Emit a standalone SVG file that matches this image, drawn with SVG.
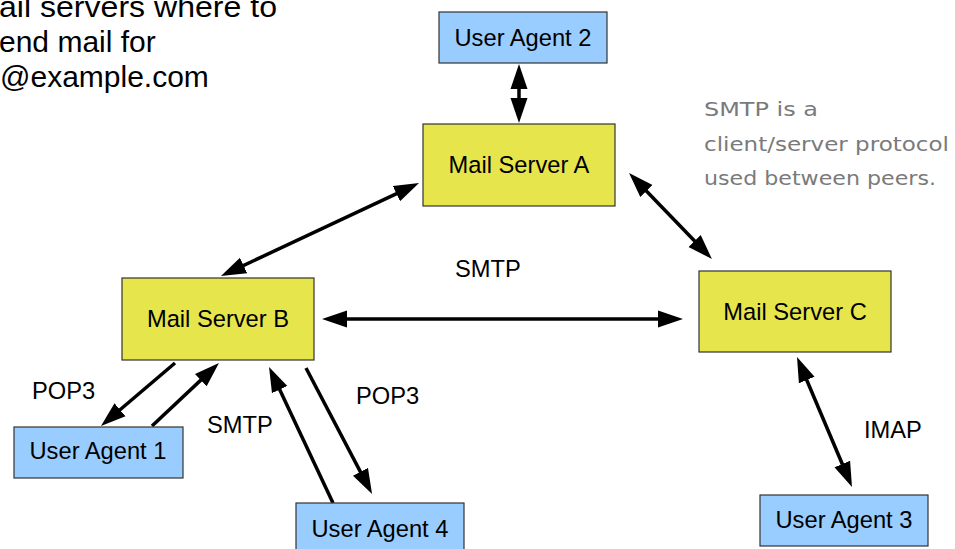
<svg xmlns="http://www.w3.org/2000/svg" width="955" height="549" viewBox="0 0 955 549">
<style>
.srv{fill:#e6e64c;stroke:#333;stroke-width:1.2}
.ua{fill:#99ccff;stroke:#333;stroke-width:1.2}
.t{font-family:"Liberation Sans",Arial,sans-serif;font-size:23.7px;fill:#000}
.c{text-anchor:middle}
.note{font-family:"DejaVu Sans","Liberation Sans",sans-serif;font-size:19px;fill:#7a7a7a}
.top{font-family:"Liberation Sans",Arial,sans-serif;font-size:30px;fill:#000}
.a{stroke:#000;stroke-width:3.5;fill:none}
.one{marker-end:url(#h)}
.two{marker-start:url(#h);marker-end:url(#h)}
</style>
<defs>
<marker id="h" markerUnits="userSpaceOnUse" markerWidth="26" markerHeight="18" refX="15" refY="8.5" orient="auto-start-reverse" viewBox="0 0 26 17">
<path d="M0,0 L25,8.5 L0,17 z" fill="#000"/>
</marker>
</defs>
<g id="caption">
<text class="top" x="-1" y="17" textLength="278" lengthAdjust="spacingAndGlyphs">ail servers where to</text>
<text class="top" x="-1" y="52">end mail for</text>
<text class="top" x="0" y="87">@example.com</text>
</g>
<g id="note">
<text class="note" x="704" y="116" textLength="114" lengthAdjust="spacingAndGlyphs">SMTP is a</text>
<text class="note" x="704" y="151" textLength="245" lengthAdjust="spacingAndGlyphs">client/server protocol</text>
<text class="note" x="704" y="185" textLength="232" lengthAdjust="spacingAndGlyphs">used between peers.</text>
</g>
<g id="connectors">
<line class="a two" x1="519" y1="74" x2="519" y2="113"/>
<line class="a two" x1="410" y1="187.3" x2="230" y2="271.8"/>
<line class="a two" x1="636" y1="180.2" x2="705" y2="251.8"/>
<line class="a two" x1="332" y1="319" x2="673" y2="319"/>
<line class="a two" x1="800.9" y1="366.2" x2="848.1" y2="477.8"/>
<line class="a one" x1="175" y1="363" x2="108.6" y2="419.5"/>
<line class="a one" x1="152" y1="426" x2="211.7" y2="369.9"/>
<line class="a one" x1="333" y1="503" x2="273.3" y2="376"/>
<line class="a one" x1="306" y1="368" x2="367.4" y2="485.1"/>
</g>
<g id="labels">
<text class="t" x="455" y="277">SMTP</text>
<text class="t" x="32" y="399">POP3</text>
<text class="t" x="207" y="433">SMTP</text>
<text class="t" x="356" y="404">POP3</text>
<text class="t" x="864" y="438">IMAP</text>
</g>
<g id="ua2"><rect class="ua" x="439" y="12" width="168" height="51"/><text class="t c" x="523" y="46">User Agent 2</text></g>
<g id="msa"><rect class="srv" x="423" y="124" width="192" height="82"/><text class="t c" x="519" y="173">Mail Server A</text></g>
<g id="msb"><rect class="srv" x="122" y="278" width="192" height="82"/><text class="t c" x="218" y="327">Mail Server B</text></g>
<g id="msc"><rect class="srv" x="699" y="271" width="192" height="81"/><text class="t c" x="795" y="320">Mail Server C</text></g>
<g id="ua1"><rect class="ua" x="14" y="427" width="169" height="51"/><text class="t c" x="98" y="459">User Agent 1</text></g>
<g id="ua4"><rect class="ua" x="296" y="503" width="168" height="52"/><text class="t c" x="380" y="537">User Agent 4</text></g>
<g id="ua3"><rect class="ua" x="760" y="495" width="168" height="51"/><text class="t c" x="844" y="528">User Agent 3</text></g>
</svg>
